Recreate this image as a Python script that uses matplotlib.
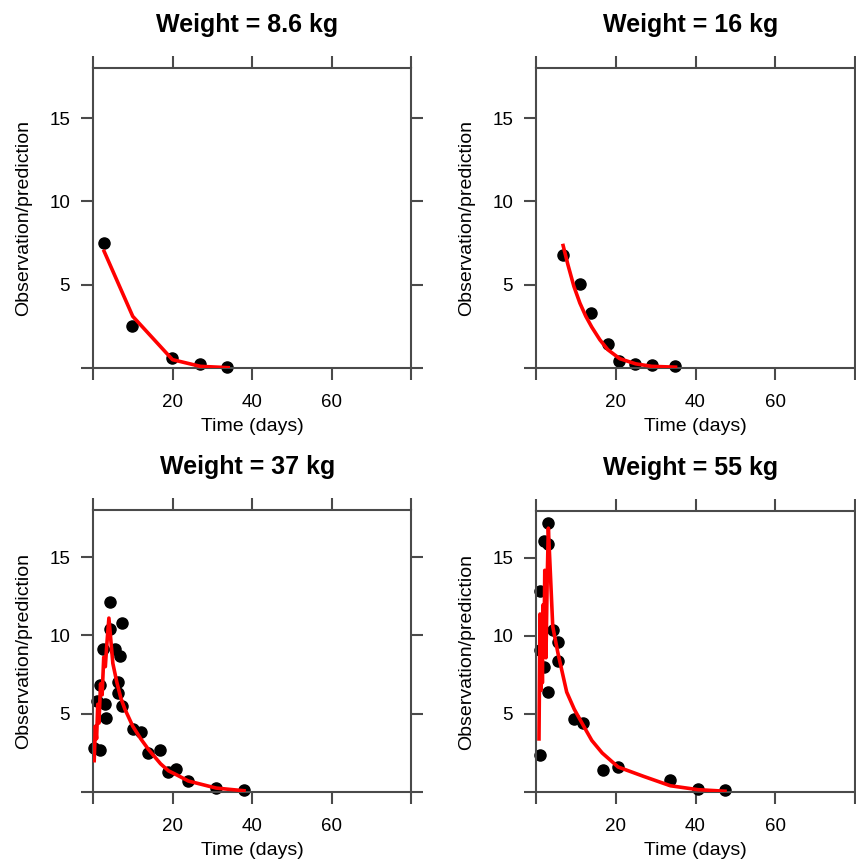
import matplotlib
matplotlib.use("Agg")
import matplotlib.pyplot as plt

plt.rcParams["font.family"] = ["Liberation Sans", "DejaVu Sans"]

# ---- data ----
titles = ["Weight = 8.6 kg", "Weight = 16 kg", "Weight = 37 kg", "Weight = 55 kg"]

# 8.6 kg
obs1_t = [2.8, 9.8, 19.8, 26.9, 33.8]
obs1_y = [7.5, 2.5, 0.62, 0.25, 0.08]
pred1_t = [2.8, 10.0, 20.0, 27.0, 34.0]
pred1_y = [7.0, 3.1, 0.5, 0.1, 0.02]

# 16 kg
obs2_t = [6.8, 11.0, 13.9, 18.1, 20.9, 24.8, 29.0, 34.8]
obs2_y = [6.8, 5.05, 3.3, 1.47, 0.42, 0.22, 0.2, 0.1]
pred2_t = [6.8, 8.0, 9.5, 11.0, 12.5, 14.0, 16.0, 18.0, 21.0, 25.0, 29.0, 35.0]
pred2_y = [7.35, 6.2, 4.9, 3.9, 3.1, 2.45, 1.7, 1.1, 0.56, 0.25, 0.1, 0.05]

# 37 kg
obs3_t = [0.3, 1.8, 0.9, 1.8, 3.0, 3.3, 2.6, 4.3, 4.3, 5.5, 6.8, 6.4, 6.4, 7.2,
          7.4, 10.1, 12.2, 13.9, 16.8, 18.9, 21.0, 23.9, 31.0, 38.0]
obs3_y = [2.8, 2.7, 5.8, 6.85, 5.6, 4.7, 9.1, 10.4, 12.1, 9.1, 8.7, 7.0, 6.3, 10.8,
          5.5, 4.0, 3.8, 2.5, 2.7, 1.3, 1.5, 0.7, 0.25, 0.15]
pred3_t = [0.3, 0.6, 0.9, 1.2, 1.5, 1.9, 2.3, 2.7, 3.1, 3.5, 4.0, 5.0, 6.0, 7.0,
           8.0, 10.0, 12.0, 14.0, 17.0, 19.0, 21.0, 24.0, 31.0, 38.0]
pred3_y = [2.0, 4.2, 3.4, 5.6, 4.4, 6.9, 6.2, 8.6, 8.0, 9.5, 11.1, 8.2, 7.0, 6.0,
           5.3, 4.2, 3.4, 2.7, 1.8, 1.35, 1.1, 0.7, 0.25, 0.08]

# 55 kg
obs4_t = [0.9, 0.9, 0.9, 2.1, 3.1, 3.1, 2.1, 3.1, 4.2, 5.5, 5.5, 9.6, 11.7,
          16.8, 20.6, 33.7, 40.6, 47.4]
obs4_y = [2.4, 12.9, 9.1, 16.1, 17.2, 15.9, 8.0, 6.4, 10.4, 9.6, 8.4, 4.7, 4.4,
          1.4, 1.6, 0.8, 0.2, 0.1]
pred4_t = [0.75, 1.0, 1.2, 1.4, 1.6, 1.8, 2.0, 2.2, 2.5, 2.8, 3.1, 4.2, 5.5,
           7.7, 9.6, 12.0, 14.0, 16.6, 20.6, 27.0, 33.7, 40.6, 47.4]
pred4_y = [3.4, 11.4, 6.5, 10.8, 7.0, 12.0, 9.0, 14.2, 8.6, 13.5, 16.9, 10.6, 8.9,
           6.4, 5.3, 4.2, 3.3, 2.5, 1.6, 1.0, 0.4, 0.15, 0.05]

obs_t = [obs1_t, obs2_t, obs3_t, obs4_t]
obs_y = [obs1_y, obs2_y, obs3_y, obs4_y]
pred_t = [pred1_t, pred2_t, pred3_t, pred4_t]
pred_y = [pred1_y, pred2_y, pred3_y, pred4_y]

x_ticks = [0, 20, 40, 60, 80]
x_labels = ["", "20", "40", "60", ""]
y_ticks = [0, 5, 10, 15]
y_labels = ["", "5", "10", "15"]

# ---- layout (pixel boxes of each panel) ----
W, H = 856, 860
boxes = [(93, 68, 411, 368), (536, 68, 855, 368),
         (93, 510, 411, 792), (536, 511, 855, 792)]

fig = plt.figure(figsize=(W / 100, H / 100), dpi=100)
edge = "#4a4a4a"

for i, (x0, y0, x1, y1) in enumerate(boxes):
    ax = fig.add_axes([x0 / W, 1 - y1 / H, (x1 - x0) / W, (y1 - y0) / H])
    ax.plot(pred_t[i], pred_y[i], color="red", lw=2.6, zorder=3)
    ax.plot(obs_t[i], obs_y[i], "o", color="black", ms=8, zorder=2, clip_on=False)

    ax.set_xlim(0, 80)
    ax.set_ylim(0, 18)
    ax.set_xticks(x_ticks)
    ax.set_xticklabels(x_labels)
    ax.set_yticks(y_ticks)
    ax.set_yticklabels(y_labels)
    ax.tick_params(direction="out", length=8.5, width=1.5, color=edge,
                   labelsize=13.5, top=True, right=True)
    ax.tick_params(axis="x", pad=10)
    ax.tick_params(axis="y", pad=8)
    for s in ax.spines.values():
        s.set_color(edge)
        s.set_linewidth(1.5)

    h = y1 - y0
    ax.set_xlabel("Time (days)", fontsize=14)
    ax.set_ylabel("Observation/prediction", fontsize=14)
    ax.xaxis.set_label_coords(0.5, -50 / h)
    ax.yaxis.set_label_coords(-0.19, 0.5)
    ax.text(0.485, 1 + 43 / h, titles[i], transform=ax.transAxes,
            ha="center", va="center", fontsize=18, fontweight="bold")

fig.savefig("out.png", dpi=100)
